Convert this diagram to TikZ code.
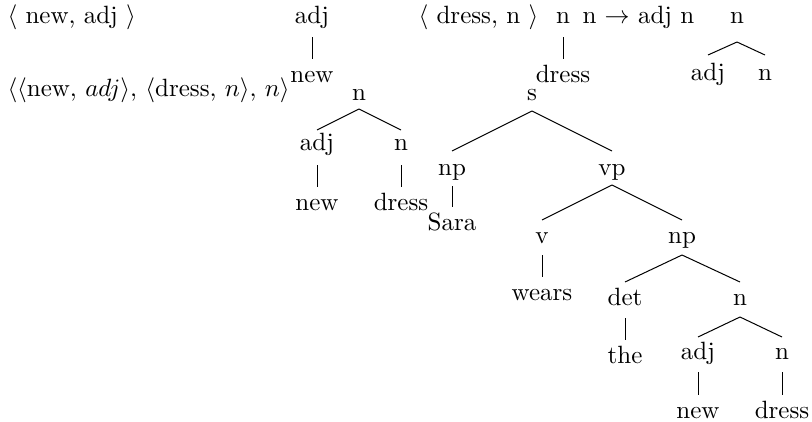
\documentclass[tikz,border=0pt]{standalone}
\usetikzlibrary{calc}
\newcommand\treeedge[4]{\draw[edge] ($(#1.base)+(0,#2)$) -- ($(#3.base)+(0,#4)$);}
\begin{document}
\begin{tikzpicture}[x=0.4pt,y=-0.4pt,
  lab/.style={anchor=base,inner sep=0pt,font=\fontsize{10}{12}\selectfont},
  labw/.style={anchor=base west,inner sep=0pt,font=\fontsize{10}{12}\selectfont},
  edge/.style={draw=black,line width=0.4pt}]
\useasboundingbox (0,0) rectangle (812,421);
% row 1 texts
\node[labw] (r1a) at (7,23) {$\langle$ new, adj $\rangle$};
\node[labw] (r1b) at (418,23) {$\langle$ dress, n $\rangle$};
\node[labw] (r1c) at (582,23) {n $\rightarrow$ adj n};
% row 2 text
\node[labw] (r2) at (7,96) {$\langle\langle$new, $adj\rangle$, $\langle$dress, $n\rangle$, $n\rangle$};
% adj - new
\node[lab] (t1adj) at (312,23) {adj};
\node[lab] (t1new) at (312,82) {new};
\treeedge{t1adj}{14}{t1new}{-23}
% n - dress
\node[lab] (t2n) at (563,23) {n};
\node[lab] (t2dress) at (563,82) {dress};
\treeedge{t2n}{14}{t2dress}{-23}
% n -> adj n
\node[lab] (t3n) at (737,23) {n};
\node[lab] (t3adj) at (708,80) {adj};
\node[lab] (t3nn) at (765,80) {n};
\treeedge{t3n}{19}{t3adj}{-25}
\treeedge{t3n}{19}{t3nn}{-25}
% small tree
\node[lab] (t4n) at (359,100) {n};
\node[lab] (t4adj) at (317,150) {adj};
\node[lab] (t4nn) at (401,150) {n};
\node[lab] (t4new) at (317,210) {new};
\node[lab] (t4dress) at (401,210) {dress};
\treeedge{t4n}{9}{t4adj}{-20}
\treeedge{t4n}{9}{t4nn}{-20}
\treeedge{t4adj}{15}{t4new}{-23}
\treeedge{t4nn}{15}{t4dress}{-23}
% big tree
\node[lab] (s) at (532,100) {s};
\node[lab] (np1) at (452,175) {np};
\node[lab] (vp) at (612,175) {vp};
\node[lab] (sara) at (452,230) {Sara};
\node[lab] (v) at (542,243) {v};
\node[lab] (np2) at (682,243) {np};
\node[lab] (wears) at (542,300) {wears};
\node[lab] (det) at (625,305) {det};
\node[lab] (n5) at (740,305) {n};
\node[lab] (the) at (625,363) {the};
\node[lab] (adj5) at (698,359) {adj};
\node[lab] (n6) at (782,359) {n};
\node[lab] (new5) at (698,418) {new};
\node[lab] (dress5) at (782,418) {dress};
\treeedge{s}{11}{np1}{-24}
\treeedge{s}{11}{vp}{-24}
\treeedge{np1}{11}{sara}{-23}
\treeedge{vp}{10}{v}{-23}
\treeedge{vp}{10}{np2}{-23}
\treeedge{v}{12}{wears}{-23}
\treeedge{np2}{12}{det}{-23}
\treeedge{np2}{12}{n5}{-23}
\treeedge{det}{13}{the}{-23}
\treeedge{n5}{12}{adj5}{-22}
\treeedge{n5}{12}{n6}{-22}
\treeedge{adj5}{13}{new5}{-23}
\treeedge{n6}{13}{dress5}{-23}
\end{tikzpicture}
\end{document}
